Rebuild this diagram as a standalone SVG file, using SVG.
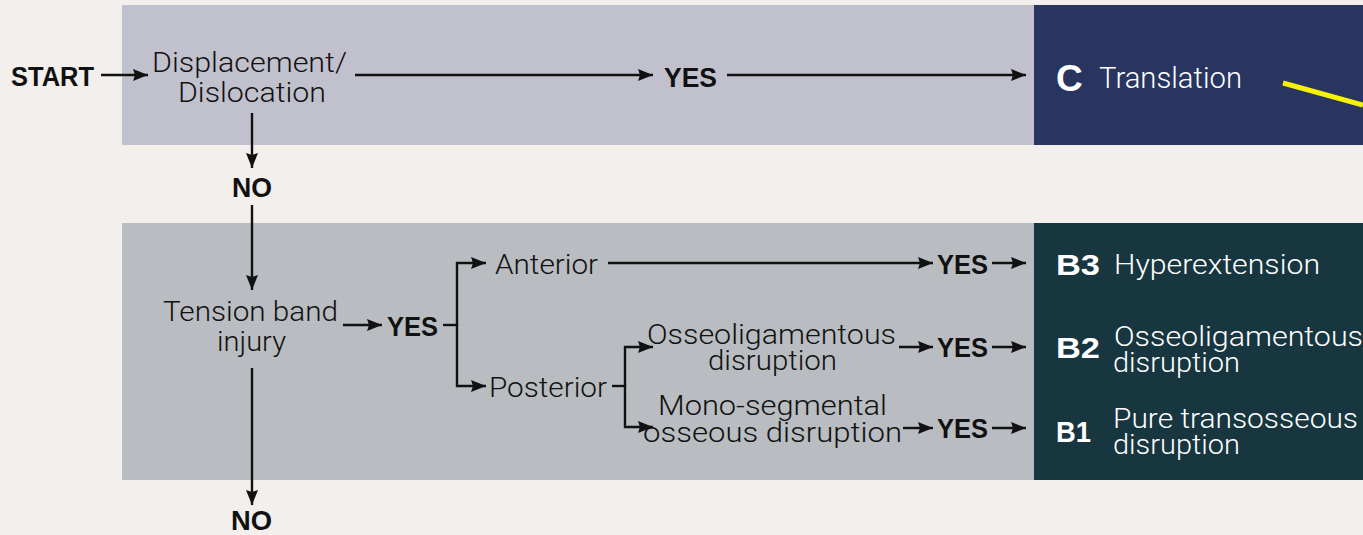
<svg xmlns="http://www.w3.org/2000/svg" width="1363" height="535" viewBox="0 0 1363 535">
<defs>
<style>
.r{font-family:Roboto,Inter,"Liberation Sans",sans-serif;font-weight:300;font-size:27px;fill:#111}
.b{font-family:"Liberation Sans",Arial,sans-serif;font-weight:700;font-size:27px;fill:#111}
.w{fill:#fff}
.c{fill:none;stroke:#111;stroke-width:2.4;stroke-linejoin:miter}
</style>
<marker id="ah" markerUnits="userSpaceOnUse" markerWidth="16" markerHeight="13" refX="15" refY="6.5" orient="auto" viewBox="0 0 16 13">
<path d="M0,0.5 L15,6.5 L0,12.5 L2,6.5 z" fill="#111"/>
</marker>
</defs>
<rect width="1363" height="535" fill="#f2efec"/>
<g id="bands">
<rect x="122" y="5" width="912" height="140" fill="#c1c1cd"/>
<rect x="1034" y="5" width="329" height="140" fill="#273560"/>
<rect x="122" y="223" width="912" height="257" fill="#b9bcc0"/>
<rect x="1034" y="223" width="329" height="257" fill="#17363f"/>
</g>
<g id="connectors">
<path class="c" d="M101,75 H148" marker-end="url(#ah)"/>
<path class="c" d="M355,75 H653" marker-end="url(#ah)"/>
<path class="c" d="M727,75 H1026" marker-end="url(#ah)"/>
<path class="c" d="M252,113 V168" marker-end="url(#ah)"/>
<path class="c" d="M252,205 V290" marker-end="url(#ah)"/>
<path class="c" d="M252,368 V505" marker-end="url(#ah)"/>
<path class="c" d="M343,325 H382" marker-end="url(#ah)"/>
<path class="c" d="M443,325 H457"/>
<path class="c" d="M457,326 V263 H486" marker-end="url(#ah)"/>
<path class="c" d="M457,324 V386 H486" marker-end="url(#ah)"/>
<path class="c" d="M608,263 H933" marker-end="url(#ah)"/>
<path class="c" d="M992,263 H1026" marker-end="url(#ah)"/>
<path class="c" d="M612,386 H625"/>
<path class="c" d="M625,387 V347 H653" marker-end="url(#ah)"/>
<path class="c" d="M625,385 V427 H653" marker-end="url(#ah)"/>
<path class="c" d="M899,347 H933" marker-end="url(#ah)"/>
<path class="c" d="M992,347 H1026" marker-end="url(#ah)"/>
<path class="c" d="M903,428 H933" marker-end="url(#ah)"/>
<path class="c" d="M992,428 H1026" marker-end="url(#ah)"/>
<line x1="1283" y1="83" x2="1363" y2="105" stroke="#f7f300" stroke-width="5"/>
</g>
<g id="start"><text class="b" x="11" y="86" textLength="83" lengthAdjust="spacingAndGlyphs">START</text></g>
<g id="displacement">
<text class="r" x="152" y="72" textLength="195" lengthAdjust="spacingAndGlyphs">Displacement/</text>
<text class="r" x="178" y="102" textLength="148" lengthAdjust="spacingAndGlyphs">Dislocation</text>
</g>
<g id="yes-top"><text class="b" x="664" y="86.5" style="font-size:28px" textLength="53" lengthAdjust="spacingAndGlyphs">YES</text></g>
<g id="no-1"><text class="b" x="232" y="196.5" textLength="40" lengthAdjust="spacingAndGlyphs">NO</text></g>
<g id="c-translation">
<text class="b w" x="1056" y="91" style="font-size:37px">C</text>
<text class="r w" x="1099" y="88" style="font-size:30px" textLength="143" lengthAdjust="spacingAndGlyphs">Translation</text>
</g>
<g id="tension">
<text class="r" x="163" y="321" textLength="175" lengthAdjust="spacingAndGlyphs">Tension band</text>
<text class="r" x="217" y="351" textLength="69" lengthAdjust="spacingAndGlyphs">injury</text>
</g>
<g id="yes-tension"><text class="b" x="387" y="336" textLength="51" lengthAdjust="spacingAndGlyphs">YES</text></g>
<g id="no-2"><text class="b" x="231" y="529.5" textLength="41" lengthAdjust="spacingAndGlyphs">NO</text></g>
<g id="anterior"><text class="r" x="495" y="274" textLength="103" lengthAdjust="spacingAndGlyphs">Anterior</text></g>
<g id="posterior"><text class="r" x="489" y="397" textLength="118" lengthAdjust="spacingAndGlyphs">Posterior</text></g>
<g id="osseo-left">
<text class="r" x="647" y="344" textLength="249" lengthAdjust="spacingAndGlyphs">Osseoligamentous</text>
<text class="r" x="708" y="370" textLength="129" lengthAdjust="spacingAndGlyphs">disruption</text>
</g>
<g id="mono">
<text class="r" x="658" y="415" textLength="229" lengthAdjust="spacingAndGlyphs">Mono-segmental</text>
<text class="r" x="643" y="442" textLength="259" lengthAdjust="spacingAndGlyphs">osseous disruption</text>
</g>
<g id="yes-b3"><text class="b" x="937" y="274" textLength="51" lengthAdjust="spacingAndGlyphs">YES</text></g>
<g id="yes-b2"><text class="b" x="937" y="357" textLength="51" lengthAdjust="spacingAndGlyphs">YES</text></g>
<g id="yes-b1"><text class="b" x="937" y="438" textLength="51" lengthAdjust="spacingAndGlyphs">YES</text></g>
<g id="b3">
<text class="b w" x="1056" y="275" style="font-size:30px" textLength="44" lengthAdjust="spacingAndGlyphs">B3</text>
<text class="r w" x="1114" y="274" textLength="206" lengthAdjust="spacingAndGlyphs">Hyperextension</text>
</g>
<g id="b2">
<text class="b w" x="1056" y="358" style="font-size:30px" textLength="44" lengthAdjust="spacingAndGlyphs">B2</text>
<text class="r w" x="1114" y="346" textLength="249" lengthAdjust="spacingAndGlyphs">Osseoligamentous</text>
<text class="r w" x="1113" y="372" textLength="127" lengthAdjust="spacingAndGlyphs">disruption</text>
</g>
<g id="b1">
<text class="b w" x="1056" y="442" style="font-size:30px" textLength="35" lengthAdjust="spacingAndGlyphs">B1</text>
<text class="r w" x="1113" y="428" textLength="245" lengthAdjust="spacingAndGlyphs">Pure transosseous</text>
<text class="r w" x="1113" y="454" textLength="127" lengthAdjust="spacingAndGlyphs">disruption</text>
</g>
</svg>
